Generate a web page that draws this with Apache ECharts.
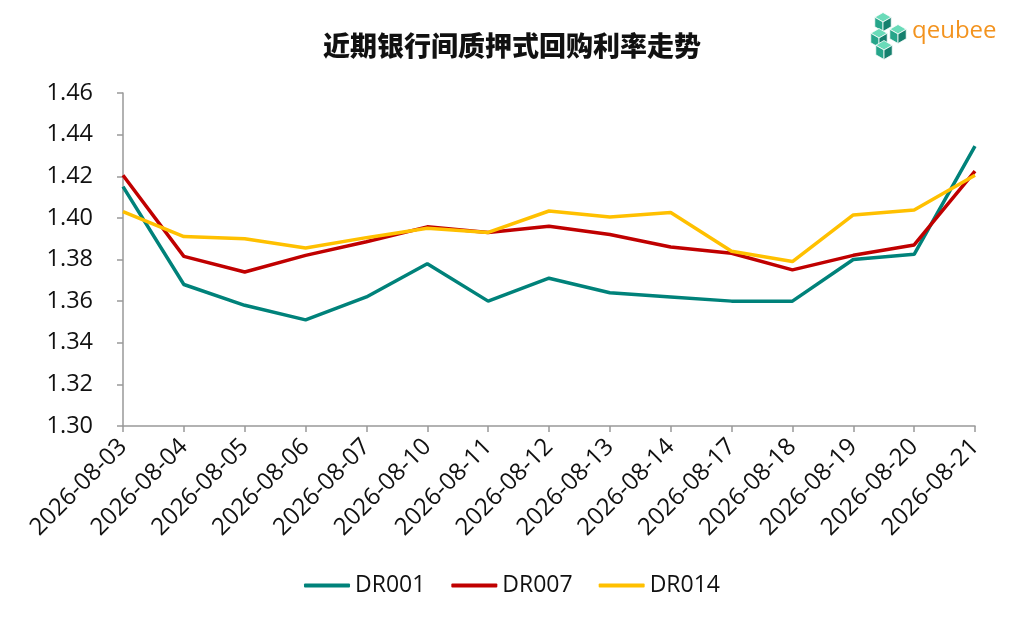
<!DOCTYPE html>
<html><head><meta charset="utf-8">
<script src="https://cdn.jsdelivr.net/npm/echarts@6/dist/echarts.min.js"></script>
<style>html,body{margin:0;padding:0;background:#fff}#c{width:1024px;height:620px}</style>
</head><body><div id="c"></div>
<script>
const categories = ['2026-08-03','2026-08-04','2026-08-05','2026-08-06','2026-08-07','2026-08-10','2026-08-11','2026-08-12','2026-08-13','2026-08-14','2026-08-17','2026-08-18','2026-08-19','2026-08-20','2026-08-21'];
const dr001 = [1.415,1.368,1.358,1.351,1.362,1.378,1.360,1.371,1.364,1.362,1.360,1.360,1.380,1.3825,1.4345];
const dr007 = [1.4205,1.3815,1.374,1.382,1.3885,1.3957,1.393,1.396,1.392,1.386,1.383,1.375,1.382,1.387,1.4225];
const dr014 = [1.403,1.391,1.390,1.3855,1.3905,1.395,1.393,1.4033,1.4004,1.4026,1.384,1.379,1.4014,1.4038,1.4205];
const seriesNames = ['DR001','DR007','DR014'];
const colors = ['#00827A','#C00000','#FFC000'];

const font = '"Open Sans", "Noto Sans", sans-serif';
const chart = echarts.init(document.getElementById('c'));

// logo cubes (decoration)
function cube(cx, cy, s, shade) {
  const h = s * 0.866;
  return [
    {type:'polygon', shape:{points:[[cx,cy-s],[cx+h,cy-s/2],[cx,cy],[cx-h,cy-s/2]]}, style:{fill:shade[0], stroke:'#fff', lineWidth:0.8}},
    {type:'polygon', shape:{points:[[cx-h,cy-s/2],[cx,cy],[cx,cy+s],[cx-h,cy+s/2]]}, style:{fill:shade[1], stroke:'#fff', lineWidth:0.8}},
    {type:'polygon', shape:{points:[[cx+h,cy-s/2],[cx,cy],[cx,cy+s],[cx+h,cy+s/2]]}, style:{fill:shade[2], stroke:'#fff', lineWidth:0.8}}
  ];
}
const sh = ['#6ADBB9','#26A58A','#16806E'];
const logo = [].concat(
  cube(883, 22, 9.5, sh), cube(898, 34, 9.5, sh), cube(879, 38, 9.5, sh), cube(884, 50, 9.5, sh)
);

chart.setOption({
  animation: false,
  color: colors,
  title: {
    text: '近期银行间质押式回购利率走势',
    left: 'center', top: 27,
    textStyle: {fontFamily: '"Noto Sans CJK SC", sans-serif', fontSize: 27, fontWeight: 900, color: '#111'}
  },
  graphic: logo.concat([
    {type:'text', left: 912, top: 19, style:{text:'qeubee', fontFamily:'"Open Sans", sans-serif', fontSize: 24, fill:'#F3931E'}}
  ]),
  legend: {
    bottom: 18, left: 'center',
    itemWidth: 46, itemHeight: 4, itemGap: 26,
    icon: 'roundRect',
    textStyle: {fontFamily: font, fontSize: 23, color: '#111'},
    data: seriesNames
  },
  grid: {left: 123, right: 49, top: 93, bottom: 194, containLabel: false},
  xAxis: {
    type: 'category', data: categories, boundaryGap: false,
    axisLine: {lineStyle: {color: '#999', width: 1.5}},
    axisTick: {show: true, length: 6, lineStyle: {color: '#999', width: 1.5}},
    axisLabel: {rotate: 45, fontFamily: font, fontSize: 24, color: '#111', margin: 17}
  },
  yAxis: {
    type: 'value', min: 1.30, max: 1.46, interval: 0.02,
    axisLine: {show: true, lineStyle: {color: '#999', width: 1.5}},
    axisTick: {show: true, length: 6, lineStyle: {color: '#999', width: 1.5}},
    splitLine: {show: false},
    axisLabel: {fontFamily: font, fontSize: 23.5, color: '#111', margin: 30, formatter: v => v.toFixed(2)}
  },
  series: [
    {name: seriesNames[0], type: 'line', data: dr001, showSymbol: false, lineStyle: {width: 3.5}},
    {name: seriesNames[1], type: 'line', data: dr007, showSymbol: false, lineStyle: {width: 3.5}},
    {name: seriesNames[2], type: 'line', data: dr014, showSymbol: false, lineStyle: {width: 3.5}}
  ]
});
</script></body></html>
